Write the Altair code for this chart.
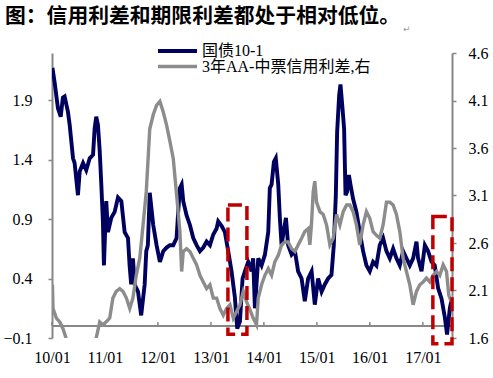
import altair as alt
import pandas as pd

title_text = "图：信用利差和期限利差都处于相对低位。"
return_mark = "↵"
series_names = ["国债10-1", "3年AA-中票信用利差,右"]

blue_dates = [
    "2010-01-04", "2010-01-19", "2010-02-11", "2010-03-02", "2010-03-17", "2010-03-29", "2010-04-21", "2010-05-03",
    "2010-05-26", "2010-06-06", "2010-06-29", "2010-07-11", "2010-08-03", "2010-08-25", "2010-09-18", "2010-10-11",
    "2010-10-22", "2010-11-02", "2010-11-14", "2010-11-26", "2010-12-07", "2010-12-18", "2010-12-25",
    "2011-01-10", "2011-01-22", "2011-02-14", "2011-03-09", "2011-04-01", "2011-04-24", "2011-05-17", "2011-06-09",
    "2011-06-20", "2011-07-01", "2011-07-13", "2011-07-25", "2011-08-17", "2011-09-08", "2011-10-02", "2011-10-13",
    "2011-10-24", "2011-11-06", "2011-11-30", "2011-12-23",
    "2012-01-15", "2012-02-07", "2012-03-01", "2012-03-24", "2012-04-16", "2012-05-09", "2012-05-20", "2012-06-01",
    "2012-06-13", "2012-06-24", "2012-07-17", "2012-08-09", "2012-09-01", "2012-09-24", "2012-10-17", "2012-11-09",
    "2012-12-02", "2012-12-25",
    "2013-01-17", "2013-02-09", "2013-02-20", "2013-03-16", "2013-04-07", "2013-04-30", "2013-05-23", "2013-06-15",
    "2013-07-01", "2013-07-20", "2013-08-07", "2013-08-23", "2013-09-15", "2013-09-26", "2013-10-08", "2013-10-19",
    "2013-10-31", "2013-11-11", "2013-11-23", "2013-12-16",
    "2014-01-08", "2014-01-31", "2014-02-11", "2014-02-23", "2014-03-11", "2014-03-24", "2014-04-10", "2014-04-21",
    "2014-05-03", "2014-05-14", "2014-06-02", "2014-06-17", "2014-07-11", "2014-08-03", "2014-08-25", "2014-09-18",
    "2014-10-10", "2014-11-02", "2014-11-26", "2014-12-18",
    "2015-01-10", "2015-02-03", "2015-02-25", "2015-03-20", "2015-04-12", "2015-04-28", "2015-05-12", "2015-05-21",
    "2015-06-04", "2015-06-13", "2015-06-27", "2015-07-08", "2015-07-18", "2015-07-29", "2015-08-10", "2015-08-21",
    "2015-09-08", "2015-10-01", "2015-10-24", "2015-11-16", "2015-12-09",
    "2016-01-01", "2016-01-24", "2016-02-16", "2016-03-10", "2016-04-02", "2016-04-25", "2016-05-18", "2016-06-10",
    "2016-07-03", "2016-07-26", "2016-08-18", "2016-09-10", "2016-10-03", "2016-10-26", "2016-11-18", "2016-11-29",
    "2016-12-23",
    "2017-01-15", "2017-02-06", "2017-03-02", "2017-03-24", "2017-04-16", "2017-05-10", "2017-06-02", "2017-06-17",
    "2017-07-06", "2017-07-20",
]
blue_values = [
    2.17, 2.05, 1.83, 1.76, 1.92, 1.93, 1.80, 1.69, 1.41, 1.37, 1.10, 1.30, 1.37, 1.31, 1.41, 1.44,
    1.66, 1.76, 1.69, 1.47, 1.19, 0.88, 0.51,
    1.05, 0.79, 0.91, 0.96, 1.08, 1.05, 0.79, 0.74, 0.51, 0.35, 0.57, 0.35, 0.29, 0.09, 0.35, 0.63,
    0.68, 1.12, 0.85, 0.68,
    0.54, 0.63, 0.66, 0.68, 0.68, 0.74, 0.96, 1.16, 1.19, 1.05, 0.93, 0.85, 0.74, 0.68, 0.63, 0.66,
    0.71, 0.68,
    0.77, 0.82, 0.88, 0.84, 0.79, 0.63, 0.46, 0.24, -0.02, 0.04, 0.40, 0.46, 0.54, 0.51, 0.46, 0.57,
    0.15, 0.35, 0.57, 0.51,
    0.60, 0.79, 1.16, 1.19, 1.38, 1.41, 1.19, 0.91, 0.68, 0.77, 0.91, 0.68, 0.60, 0.63, 0.46, 0.40,
    0.21, 0.40, 0.46, 0.18,
    0.40, 0.29, 0.35, 0.40, 0.43, 0.68, 1.10, 1.63, 1.94, 2.03, 1.83, 1.66, 1.10, 1.13, 1.27, 1.19,
    1.07, 0.96, 0.79, 0.63, 0.51,
    0.46, 0.54, 0.51, 0.68, 0.74, 0.63, 0.57, 0.65, 0.57, 0.51, 0.63, 0.57, 0.51, 0.57, 0.71, 0.57,
    0.46,
    0.68, 0.63, 0.54, 0.51, 0.32, 0.23, 0.07, -0.07, 0.15, 0.23,
]

gray_dates = [
    "2010-01-04", "2010-01-08", "2010-01-31", "2010-02-23", "2010-03-17", "2010-04-08", "2010-05-15", "2010-07-15",
    "2010-09-15", "2010-10-20", "2010-11-02", "2010-11-26", "2010-12-18",
    "2011-01-10", "2011-02-03", "2011-02-25", "2011-03-20", "2011-04-13", "2011-05-06", "2011-05-29", "2011-06-21",
    "2011-07-13", "2011-08-05", "2011-08-29", "2011-09-21", "2011-10-13", "2011-11-06", "2011-11-30", "2011-12-23",
    "2012-01-15", "2012-02-07", "2012-03-01", "2012-03-24", "2012-04-16", "2012-05-09", "2012-06-01", "2012-06-13",
    "2012-06-24", "2012-07-17", "2012-08-09", "2012-09-01", "2012-09-24", "2012-10-17", "2012-11-09", "2012-12-02",
    "2012-12-25",
    "2013-01-17", "2013-02-09", "2013-03-04", "2013-03-27", "2013-04-19", "2013-05-12", "2013-06-04", "2013-06-27",
    "2013-07-20", "2013-08-12", "2013-09-04", "2013-09-26", "2013-10-19", "2013-11-11", "2013-11-23", "2013-12-16",
    "2014-01-08", "2014-01-31", "2014-02-23", "2014-03-17", "2014-04-10", "2014-05-03", "2014-05-26", "2014-06-17",
    "2014-07-11", "2014-08-03", "2014-08-25", "2014-09-18", "2014-10-10", "2014-11-02", "2014-11-14", "2014-11-26",
    "2014-12-07", "2014-12-18", "2014-12-30",
    "2015-01-22", "2015-02-14", "2015-03-09", "2015-04-01", "2015-04-24", "2015-05-17", "2015-06-09", "2015-07-02",
    "2015-07-25", "2015-08-17", "2015-09-08", "2015-10-01", "2015-10-24", "2015-11-16", "2015-12-09",
    "2016-01-01", "2016-01-24", "2016-02-16", "2016-03-10", "2016-04-02", "2016-04-25", "2016-05-18", "2016-06-10",
    "2016-07-03", "2016-07-26", "2016-08-18", "2016-09-10", "2016-10-03", "2016-10-26", "2016-11-18", "2016-12-11",
    "2017-01-03", "2017-01-26", "2017-02-18", "2017-03-13", "2017-04-05", "2017-04-28", "2017-05-21", "2017-06-13",
    "2017-06-29", "2017-07-17",
]
gray_values = [
    2.16, 1.91, 1.81, 1.77, 1.70, 1.60, 1.45, 1.35, 1.40, 1.52, 1.60, 1.77, 1.74,
    1.77, 1.81, 2.02, 2.09, 2.12, 2.09, 2.02, 1.91, 2.02, 2.26, 2.44, 2.79, 3.14, 3.80, 3.95, 4.05,
    4.09, 3.98, 3.84, 3.67, 3.49, 3.11, 2.72, 2.30, 2.51, 2.54, 2.51, 2.44, 2.37, 2.26, 2.19, 2.12,
    2.16,
    2.02, 2.02, 1.91, 1.84, 1.91, 1.95, 1.81, 1.88, 1.95, 2.09, 1.98, 1.90, 1.81, 1.74, 2.02, 2.16,
    2.26, 2.33, 2.26, 2.40, 2.47, 2.58, 2.61, 2.61, 2.54, 2.51, 2.58, 2.65, 2.72, 2.75, 2.58, 2.82,
    3.14, 3.25, 3.03,
    2.93, 2.90, 2.79, 2.58, 2.65, 2.90, 2.79, 2.93, 3.00, 3.00, 2.93, 2.79, 2.58, 2.79, 2.93,
    2.86, 2.72, 2.68, 2.65, 2.79, 3.03, 3.03, 3.00, 2.90, 2.72, 2.44, 2.30, 2.16, 1.95, 2.09, 2.16,
    2.19, 2.23, 2.19, 2.26, 2.30, 2.26, 2.37, 2.30, 2.05, 1.98,
]

tick_years = [2010, 2011, 2012, 2013, 2014, 2015, 2016, 2017]
left_ticks = [-0.1, 0.4, 0.9, 1.4, 1.9]
right_ticks = [1.6, 2.1, 2.6, 3.1, 3.6, 4.1, 4.6]

box_start = ["2013-04-28", "2017-03-11"]
box_end = ["2013-09-06", "2017-07-21"]
box_low = [1.64, 1.54]
box_high = [3.00, 2.88]

BLUE = "#00005E"
GRAY = "#8C8C8C"
AXIS = "#878787"
RED = "#C00000"
SERIF = "'Liberation Serif', 'Times New Roman', serif"
MIXED = "'Liberation Serif', 'Noto Sans CJK SC', serif"

blue_df = pd.DataFrame({"date": blue_dates, "v": blue_values})
gray_df = pd.DataFrame({"date": gray_dates, "v": gray_values})
tick_df = pd.DataFrame({"date": [f"{y}-01-01" for y in tick_years]})
box_df = pd.DataFrame({"s": box_start, "e": box_end, "lo": box_low, "hi": box_high})

xs = alt.Scale(type="utc",
               domain=[alt.DateTime(year=2010, month=1, date=1, utc=True),
                       alt.DateTime(year=2017, month=7, date=21, utc=True)])
ls = alt.Scale(domain=[-0.1, 2.295], nice=False, zero=False)
rs = alt.Scale(domain=[1.6, 4.6], nice=False, zero=False)

x_axis = alt.Axis(values=[alt.DateTime(year=y, month=1, date=1, utc=True) for y in tick_years],
                  format="%y/%m", domain=False, ticks=False, tickSize=0, grid=False,
                  labelFont=SERIF, labelFontSize=16, labelColor="black", labelPadding=11,
                  labelFlush=False, labelBound=False, labelOverlap=False, title=None)
left_axis = alt.Axis(values=left_ticks, format=".1f", domainColor=AXIS, domainWidth=2,
                     tickColor=AXIS, tickSize=4, tickWidth=1.5, grid=False, labelFlush=False,
                     labelFont=SERIF, labelFontSize=16, labelColor="black", labelPadding=16, title=None)
right_axis = alt.Axis(orient="right", values=right_ticks, format=".1f", domainColor=AXIS, domainWidth=2,
                      tickColor=AXIS, tickSize=4, tickWidth=1.5, grid=False, labelFlush=False,
                      labelFont=SERIF, labelFontSize=16, labelColor="black", labelPadding=12, title=None)

blue = alt.Chart(blue_df).mark_line(color=BLUE, strokeWidth=3.9, clip=True).encode(
    x=alt.X("date:T", scale=xs, axis=x_axis),
    y=alt.Y("v:Q", scale=ls, axis=left_axis),
)
zero = alt.Chart(pd.DataFrame({"v": [0.0]})).mark_rule(color=AXIS, strokeWidth=2).encode(
    y=alt.Y("v:Q", scale=ls, axis=left_axis)
)
xticks = alt.Chart(tick_df).mark_rule(color=AXIS, strokeWidth=1.5).encode(
    x=alt.X("date:T", scale=xs, axis=x_axis),
    y=alt.YDatum(0.0, scale=ls, axis=left_axis),
    y2=alt.datum(0.035),
)
left_group = alt.layer(zero, xticks, blue)

gray = alt.Chart(gray_df).mark_line(color=GRAY, strokeWidth=3.4, clip=True).encode(
    x=alt.X("date:T", scale=xs, axis=x_axis),
    y=alt.Y("v:Q", scale=rs, axis=right_axis),
)
boxes = alt.Chart(box_df).mark_rect(fill=None, fillOpacity=0, stroke=RED, strokeWidth=3.5,
                                    strokeDash=[14, 6], clip=False).encode(
    x=alt.X("s:T", scale=xs, axis=x_axis),
    x2="e:T",
    y=alt.Y("lo:Q", scale=rs, axis=right_axis),
    y2="hi:Q",
)
right_group = alt.layer(gray, boxes)

title_mark = alt.Chart(pd.DataFrame({"t": [title_text]})).mark_text(
    align="left", baseline="middle", font="Noto Sans CJK SC", fontWeight="bold", fontSize=20.8, color="black"
).encode(text="t:N", x=alt.value(-47), y=alt.value(-36.5))
ret_mark = alt.Chart(pd.DataFrame({"t": [return_mark]})).mark_text(
    align="left", baseline="middle", font="DejaVu Sans", fontSize=9, color="#9a9a9a"
).encode(text="t:N", x=alt.value(351), y=alt.value(-24))

leg1_line = alt.Chart(pd.DataFrame({"n": [series_names[0]]})).mark_rule(color=BLUE, strokeWidth=3.8).encode(
    x=alt.value(106), x2=alt.value(145), y=alt.value(-2))
leg1_text = alt.Chart(pd.DataFrame({"n": [series_names[0]]})).mark_text(
    align="left", baseline="middle", font=MIXED, fontSize=16, color="black"
).encode(text="n:N", x=alt.value(150), y=alt.value(-2))
leg2_line = alt.Chart(pd.DataFrame({"n": [series_names[1]]})).mark_rule(color=GRAY, strokeWidth=3.4).encode(
    x=alt.value(106), x2=alt.value(145), y=alt.value(13.5))
leg2_text = alt.Chart(pd.DataFrame({"n": [series_names[1]]})).mark_text(
    align="left", baseline="middle", font=MIXED, fontSize=16, color="black"
).encode(text="n:N", x=alt.value(150), y=alt.value(13.5))

chart = alt.layer(
    left_group, right_group, title_mark, ret_mark, leg1_line, leg1_text, leg2_line, leg2_text
).resolve_scale(y="independent").properties(
    width=400, height=285,
    autosize=alt.AutoSizeParams(type="none"),
    padding={"left": 52, "top": 53, "right": 41, "bottom": 40},
    background="white",
).configure_view(stroke=None)

chart.save("out.html", embed_options={"renderer": "svg", "actions": False})
